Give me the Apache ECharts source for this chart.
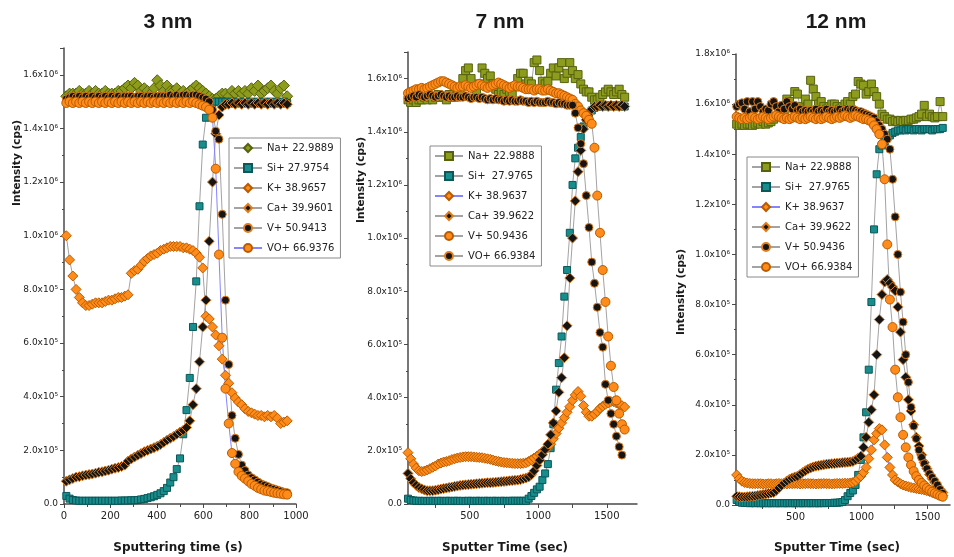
<!DOCTYPE html>
<html><head><meta charset="utf-8">
<script src="https://cdn.jsdelivr.net/npm/echarts@6/dist/echarts.min.js"></script>
<style>html,body{margin:0;padding:0;background:#fff}#c{width:954px;height:557px}</style>
</head><body><div id="c"></div>
<script>
// ---------- tick labels (y values in units of 1e5 cps) ----------
const yTickLabels = ['0.0','2.0x10⁵','4.0x10⁵','6.0x10⁵','8.0x10⁵','1.0x10⁶','1.2x10⁶','1.4x10⁶','1.6x10⁶','1.8x10⁶'];
const p23XLabels = [500,1000,1500];
const p23XTicks = [250,500,750,1000,1250,1500];

// ---------- panel 1 : 3 nm ----------
const p1Names = ['Na+ 22.9889','Si+ 27.9754','K+ 38.9657','Ca+ 39.9601','V+ 50.9413','VO+ 66.9376'];
const p1Time = [10,24,38,52,66,80,94,108,122,136,
 150,164,178,192,206,220,234,248,262,276,
 290,304,318,332,346,360,374,388,402,416,
 430,444,458,472,486,500,514,528,542,556,
 570,584,598,612,626,640,654,668,682,696,
 710,724,738,752,766,780,794,808,822,836,
 850,864,878,892,906,920,934,948,962];
const p1Na = [15.2,15.3,15.3,15.3,15.4,15.3,15.3,15.4,15.3,15.4,
 15.3,15.3,15.4,15.3,15.3,15.3,15.4,15.4,15.5,15.6,
 15.5,15.7,15.6,15.4,15.5,15.4,15.3,15.5,15.8,15.6,
 15.4,15.6,15.4,15.4,15.5,15.3,15.4,15.3,15.4,15.5,
 15.6,15.5,15.4,15.3,15.2,15.1,15.1,15.2,15.3,15.3,
 15.2,15.4,15.3,15.4,15.3,15.4,15.3,15.5,15.4,15.6,
 15.3,15.4,15.5,15.6,15.4,15.3,15.5,15.6,15.2];
const p1Si = [0.3,0.2,0.15,0.13,0.12,0.12,0.12,0.12,0.12,0.12,
 0.12,0.12,0.12,0.12,0.12,0.12,0.12,0.13,0.13,0.13,
 0.14,0.14,0.15,0.17,0.19,0.22,0.25,0.29,0.34,0.4,
 0.48,0.6,0.8,1.0,1.3,1.7,2.6,3.5,4.7,6.6,
 8.3,11.1,13.4,14.4,14.8,14.95,15.0,15.0,15.0,15.0,
 14.95,15.0,14.95,15.0,14.95,15.0,14.95,15.0,14.95,15.0,
 14.95,15.0,14.95,15.0,14.95,15.0,14.95,15.0,14.95];
const p1K = [10.0,9.1,8.5,8.0,7.7,7.5,7.4,7.4,7.45,7.5,
 7.5,7.5,7.55,7.6,7.6,7.65,7.7,7.7,7.75,7.8,
 8.6,8.7,8.75,8.9,9.05,9.15,9.25,9.3,9.35,9.45,
 9.5,9.55,9.6,9.6,9.6,9.6,9.55,9.55,9.5,9.45,
 9.35,9.2,8.8,7.0,6.9,6.6,6.3,5.9,5.4,4.8,
 4.5,4.15,3.95,3.8,3.7,3.55,3.45,3.4,3.35,3.3,
 3.3,3.25,3.3,3.25,3.3,3.2,3.0,3.05,3.1];
const p1Ca = [0.85,0.9,0.95,1.0,1.02,1.05,1.08,1.1,1.12,1.15,
 1.18,1.2,1.23,1.26,1.3,1.33,1.36,1.4,1.45,1.6,
 1.68,1.75,1.82,1.88,1.95,2.0,2.05,2.1,2.15,2.22,
 2.3,2.38,2.45,2.52,2.6,2.68,2.75,2.85,3.1,3.7,
 4.3,5.3,6.6,7.6,9.8,12.0,13.8,14.5,14.8,14.9,
 14.9,14.95,14.9,14.95,14.9,14.95,14.9,14.95,14.9,14.95,
 14.9,14.95,14.9,14.95,14.9,14.95,14.9,14.95,14.9];
const p1V = [15.1,15.15,15.2,15.15,15.2,15.15,15.2,15.15,15.2,15.15,
 15.2,15.15,15.2,15.15,15.2,15.15,15.2,15.15,15.2,15.2,
 15.2,15.15,15.2,15.2,15.15,15.2,15.2,15.15,15.2,15.2,
 15.2,15.2,15.25,15.2,15.25,15.2,15.25,15.25,15.2,15.25,
 15.25,15.2,15.15,15.1,15.0,14.7,13.9,13.6,10.8,7.6,
 5.2,3.3,2.45,1.85,1.45,1.25,1.08,0.98,0.9,0.82,
 0.75,0.7,0.65,0.6,0.56,0.52,0.48,0.44,0.42];
const p1VO = [14.95,15.0,14.95,15.0,14.95,15.0,14.95,15.0,14.95,15.0,
 14.95,15.0,14.95,15.0,14.95,15.0,14.95,15.0,14.95,15.0,
 14.95,15.0,14.95,15.0,14.95,15.0,14.95,15.0,14.95,15.0,
 14.95,15.0,14.95,15.0,14.95,15.0,14.95,15.0,14.95,15.0,
 14.95,14.9,14.85,14.8,14.7,14.4,12.5,9.3,6.2,4.3,
 3.0,1.9,1.5,1.2,1.05,0.95,0.85,0.75,0.68,0.6,
 0.55,0.5,0.48,0.45,0.42,0.4,0.38,0.36,0.35];

// ---------- panel 2 : 7 nm ----------
const p2Names = ['Na+ 22.9888','Si+  27.9765','K+ 38.9637','Ca+ 39.9622','V+ 50.9436','VO+ 66.9384'];
const p2Time = [50,70,90,110,130,150,170,190,210,230,
 250,270,290,310,330,350,370,390,410,430,
 450,470,490,510,530,550,570,590,610,630,
 650,670,690,710,730,750,770,790,810,830,
 850,870,890,910,930,950,970,990,1010,1030,
 1050,1070,1090,1110,1130,1150,1170,1190,1210,1230,
 1250,1270,1290,1310,1330,1350,1370,1390,1410,1430,
 1450,1470,1490,1510,1530,1550,1570,1590,1610,1630];
const p2Na = [15.2,15.1,15.2,15.1,15.2,15.2,15.3,15.2,15.3,15.2,
 15.3,15.4,15.3,15.3,15.2,15.4,15.3,15.3,15.4,15.5,
 16.0,16.3,16.4,16.0,15.7,15.5,15.8,16.4,16.2,16.0,
 16.1,15.8,15.6,15.4,15.5,15.4,15.6,15.5,15.4,15.7,
 16.0,16.2,16.2,15.8,15.9,15.8,16.6,16.7,16.3,15.9,
 15.8,15.9,16.2,16.4,16.1,16.4,16.6,16.0,16.2,16.6,
 16.3,16.0,16.15,15.8,15.6,15.5,15.5,15.3,15.2,15.2,
 15.3,15.4,15.5,15.6,15.5,15.4,15.5,15.6,15.4,15.3];
const p2Si = [0.2,0.15,0.13,0.12,0.12,0.11,0.12,0.11,0.12,0.12,
 0.11,0.12,0.12,0.11,0.12,0.12,0.11,0.12,0.12,0.11,
 0.12,0.11,0.12,0.12,0.11,0.12,0.12,0.11,0.12,0.12,
 0.11,0.12,0.12,0.11,0.12,0.12,0.11,0.12,0.12,0.12,
 0.12,0.12,0.12,0.12,0.2,0.3,0.42,0.55,0.65,0.9,
 1.15,1.5,2.1,3.0,4.3,5.3,6.3,7.8,8.8,10.2,
 12.0,13.0,13.4,13.8,14.2,14.5,14.7,14.8,14.9,14.95,
 14.95,15.0,14.95,15.0,14.95,15.0,14.95,15.0,14.95,14.95];
const p2K = [1.93,1.7,1.5,1.35,1.25,1.22,1.24,1.28,1.33,1.38,
 1.43,1.5,1.54,1.58,1.6,1.63,1.67,1.7,1.73,1.75,
 1.77,1.78,1.78,1.78,1.77,1.76,1.75,1.74,1.72,1.7,
 1.68,1.65,1.62,1.6,1.58,1.56,1.55,1.54,1.53,1.52,
 1.52,1.52,1.53,1.55,1.6,1.66,1.73,1.8,1.88,1.96,
 2.05,2.12,2.25,2.45,2.65,2.85,3.05,3.25,3.45,3.66,
 3.9,4.1,4.23,4.05,3.7,3.45,3.3,3.3,3.38,3.48,
 3.6,3.68,3.75,3.8,3.85,3.85,3.8,3.75,3.7,3.65];
const p2Ca = [1.15,0.95,0.8,0.7,0.62,0.57,0.53,0.5,0.5,0.5,
 0.52,0.54,0.56,0.58,0.6,0.62,0.64,0.66,0.68,0.7,
 0.71,0.72,0.73,0.74,0.75,0.76,0.77,0.78,0.79,0.8,
 0.8,0.81,0.82,0.83,0.84,0.85,0.86,0.87,0.88,0.89,
 0.9,0.92,0.95,0.98,1.02,1.1,1.25,1.45,1.65,1.85,
 2.05,2.25,2.6,3.05,3.5,4.2,4.75,5.5,6.7,8.5,
 10.0,11.4,12.5,13.3,14.1,14.45,14.7,14.85,14.95,14.95,
 15.0,14.95,15.0,14.95,15.0,14.95,15.0,14.95,15.0,14.95];
const p2V = [15.45,15.5,15.55,15.6,15.6,15.65,15.6,15.65,15.7,15.75,
 15.8,15.85,15.9,15.9,15.85,15.8,15.75,15.7,15.65,15.7,
 15.7,15.75,15.7,15.65,15.7,15.75,15.8,15.75,15.7,15.65,
 15.7,15.75,15.8,15.85,15.8,15.75,15.7,15.65,15.7,15.75,
 15.7,15.7,15.65,15.6,15.6,15.6,15.55,15.6,15.6,15.55,
 15.55,15.6,15.55,15.5,15.45,15.45,15.4,15.35,15.3,15.25,
 15.2,15.05,14.95,14.8,14.7,14.6,14.45,14.3,13.4,11.6,
 10.2,8.8,7.6,6.3,5.2,4.4,3.9,3.4,3.0,2.8];
const p2VO = [15.25,15.3,15.35,15.3,15.4,15.35,15.3,15.35,15.4,15.35,
 15.3,15.35,15.4,15.35,15.3,15.35,15.3,15.3,15.35,15.3,
 15.3,15.35,15.3,15.25,15.3,15.3,15.25,15.3,15.25,15.2,
 15.25,15.2,15.25,15.2,15.2,15.15,15.2,15.15,15.2,15.15,
 15.15,15.2,15.15,15.15,15.1,15.15,15.1,15.15,15.1,15.1,
 15.1,15.15,15.1,15.1,15.05,15.1,15.05,15.05,15.0,15.0,
 15.0,14.7,14.15,13.55,12.8,11.6,10.4,9.1,8.3,7.4,
 6.45,5.9,4.5,3.9,3.4,3.0,2.55,2.15,1.84,null];

// ---------- panel 3 : 12 nm ----------
const p3Names = ['Na+ 22.9888\u200b','Si+  27.9765\u200b','K+ 38.9637\u200b','Ca+ 39.9622\u200b','V+ 50.9436\u200b','VO+ 66.9384\u200b'];
const p3Time = [55,75,95,115,135,155,175,195,215,235,
 255,275,295,315,335,355,375,395,415,435,
 455,475,495,515,535,555,575,595,615,635,
 655,675,695,715,735,755,775,795,815,835,
 855,875,895,915,935,955,975,995,1015,1035,
 1055,1075,1095,1115,1135,1155,1175,1195,1215,1235,
 1255,1275,1295,1315,1335,1355,1375,1395,1415,1435,
 1455,1475,1495,1515,1535,1555,1575,1595,1615];
const p3Na = [15.2,15.15,15.2,15.15,15.2,15.2,15.15,15.2,15.25,15.2,
 15.3,15.2,15.25,15.3,15.4,15.5,15.6,15.8,15.7,16.2,
 16.1,15.9,16.5,16.4,15.9,15.8,16.2,16.0,16.95,16.6,
 16.3,16.0,16.1,15.9,15.8,15.9,16.0,16.0,15.9,15.8,
 15.9,16.0,16.1,16.0,16.3,16.4,16.9,16.8,16.75,16.4,
 16.5,16.8,16.5,16.3,16.0,15.6,15.5,15.4,15.4,15.3,
 15.35,15.3,15.35,15.3,15.35,15.35,15.4,15.4,15.45,15.5,
 15.6,15.95,15.5,15.6,15.5,15.45,15.5,16.1,15.5];
const p3Si = [0.2,0.12,0.09,0.08,0.08,0.07,0.08,0.07,0.08,0.07,
 0.07,0.08,0.07,0.07,0.08,0.07,0.07,0.08,0.07,0.07,
 0.08,0.07,0.07,0.08,0.07,0.07,0.08,0.07,0.07,0.08,
 0.07,0.07,0.08,0.07,0.08,0.08,0.08,0.09,0.09,0.1,
 0.12,0.2,0.35,0.48,0.58,0.8,1.2,1.8,2.7,3.7,
 5.4,8.1,11.0,13.2,14.2,14.35,14.5,14.65,14.75,14.85,
 14.9,14.95,14.95,15.0,14.95,15.0,15.0,14.95,15.0,15.0,
 14.95,15.0,15.0,15.0,14.95,15.0,15.0,15.0,15.05];
const p3K = [1.2,1.05,0.95,0.9,0.88,0.86,0.85,0.85,0.85,0.85,
 0.84,0.84,0.85,0.85,0.84,0.85,0.86,0.85,0.85,0.84,
 0.85,0.85,0.86,0.85,0.84,0.85,0.85,0.86,0.85,0.85,
 0.84,0.85,0.85,0.86,0.85,0.85,0.84,0.85,0.86,0.86,
 0.86,0.87,0.87,0.88,0.9,0.95,1.05,1.15,1.3,1.5,
 1.85,2.2,2.6,2.85,3.05,3.0,2.4,1.9,1.5,1.2,
 1.0,0.92,0.85,0.8,0.76,0.73,0.7,0.68,0.66,0.64,
 0.62,0.6,0.57,0.54,0.5,0.47,0.44,0.4,0.38];
const p3Ca = [0.35,0.33,0.32,0.32,0.33,0.34,0.35,0.36,0.38,0.4,
 0.42,0.44,0.46,0.48,0.5,0.58,0.68,0.78,0.88,0.96,
 1.03,1.08,1.12,1.15,1.22,1.3,1.37,1.43,1.48,1.52,
 1.55,1.57,1.59,1.61,1.63,1.64,1.65,1.66,1.67,1.68,
 1.69,1.7,1.71,1.72,1.74,1.8,1.88,1.95,2.3,2.7,
 3.3,3.8,4.4,6.0,7.4,8.4,8.9,9.0,8.85,8.7,
 8.55,7.9,6.9,5.8,5.1,4.2,3.75,3.2,2.7,2.35,
 2.0,1.7,1.45,1.22,1.05,0.9,0.75,0.62,0.5];
const p3V = [15.9,16.0,16.05,15.8,16.1,15.7,16.1,15.8,16.1,15.9,
 15.7,15.8,15.75,16.0,16.1,15.9,15.7,15.95,15.8,16.1,
 15.9,15.8,15.95,15.75,15.8,15.7,15.75,15.7,15.75,15.7,
 15.8,15.7,15.75,15.7,15.8,15.7,15.75,15.7,15.75,15.8,
 15.7,15.75,15.8,15.75,15.8,15.75,15.7,15.7,15.65,15.6,
 15.55,15.5,15.45,15.3,15.15,15.0,14.8,14.6,14.2,13.0,
 11.5,10.0,8.5,7.3,6.0,4.9,3.9,3.15,2.65,2.2,
 1.9,1.65,1.45,1.25,1.1,0.95,0.8,0.62,0.47];
const p3VO = [15.5,15.45,15.4,15.45,15.4,15.45,15.5,15.45,15.4,15.45,
 15.5,15.45,15.4,15.45,15.5,15.55,15.5,15.45,15.4,15.45,
 15.4,15.45,15.5,15.45,15.4,15.45,15.4,15.45,15.5,15.45,
 15.4,15.45,15.4,15.45,15.5,15.45,15.4,15.45,15.5,15.45,
 15.5,15.55,15.5,15.45,15.5,15.55,15.5,15.45,15.4,15.4,
 15.35,15.3,15.15,15.0,14.8,14.4,13.0,10.4,8.2,7.1,
 5.4,4.3,3.5,2.8,2.3,1.9,1.6,1.35,1.15,1.0,
 0.88,0.78,0.68,0.6,0.53,0.47,0.42,0.37,0.33];

// ---------- styling ----------
const COL = {
  olive:['#8e9c1e','#566210'], teal:['#178d8d','#0b5858'],
  orange:['#ff8c1a','#b95c00'], black:['#141414','#e07d1c'],
  gray:'#a3a3a3', blue:'#8484ff'
};
const FONT = 'DejaVu Sans';
function pairs(t, v){ const out=[]; for(let i=0;i<t.length;i++){ if(v[i]!=null) out.push([t[i], v[i]]); } return out; }
function mk(name, t, v, sym, size, c, lineColor, gi){
  return {type:'line', name, data:pairs(t,v), xAxisIndex:gi, yAxisIndex:gi,
    symbol:sym, symbolSize:size, showSymbol:true, showAllSymbol:true,
    itemStyle:{color:c[0], borderColor:c[1], borderWidth:1},
    lineStyle:{color:lineColor, width:1},
    emphasis:{disabled:true}, silent:true, animation:false};
}
const series = [
  mk(p1Names[0], p1Time, p1Na, 'diamond', 11, COL.olive, COL.gray, 0),
  mk(p1Names[1], p1Time, p1Si, 'rect', 7, COL.teal, COL.gray, 0),
  mk(p1Names[2], p1Time, p1K, 'diamond', 10, COL.orange, COL.gray, 0),
  mk(p1Names[3], p1Time, p1Ca, 'diamond', 10, COL.black, COL.gray, 0),
  mk(p1Names[4], p1Time, p1V, 'circle', 8, COL.black, COL.gray, 0),
  mk(p1Names[5], p1Time, p1VO, 'circle', 9, COL.orange, COL.blue, 0),

  mk(p2Names[0], p2Time, p2Na, 'rect', 8, COL.olive, COL.gray, 1),
  mk(p2Names[1], p2Time, p2Si, 'rect', 7, COL.teal, COL.gray, 1),
  mk(p2Names[2], p2Time, p2K, 'diamond', 10, COL.orange, COL.blue, 1),
  mk(p2Names[3], p2Time, p2Ca, 'diamond', 10, COL.black, COL.gray, 1),
  mk(p2Names[4], p2Time, p2V, 'circle', 9, COL.orange, COL.gray, 1),
  mk(p2Names[5], p2Time, p2VO, 'circle', 8, COL.black, COL.gray, 1),

  mk(p3Names[0], p3Time, p3Na, 'rect', 8, COL.olive, COL.gray, 2),
  mk(p3Names[1], p3Time, p3Si, 'rect', 7, COL.teal, COL.gray, 2),
  mk(p3Names[2], p3Time, p3K, 'diamond', 10, COL.orange, COL.blue, 2),
  mk(p3Names[3], p3Time, p3Ca, 'diamond', 10, COL.black, COL.gray, 2),
  mk(p3Names[4], p3Time, p3V, 'circle', 8, COL.black, COL.gray, 2),
  mk(p3Names[5], p3Time, p3VO, 'circle', 9, COL.orange, COL.gray, 2)
];

const AX = '#4a4a4a';
function yAxis(gi, max){
  return {type:'value', gridIndex:gi, min:0, max:max, interval:2,
    axisLine:{show:true, lineStyle:{color:AX, width:1.5}},
    axisTick:{show:true, length:4, lineStyle:{color:AX}},
    minorTick:{show:true, splitNumber:2, length:2, lineStyle:{color:AX}},
    splitLine:{show:false}, minorSplitLine:{show:false},
    axisLabel:{fontSize:9, color:'#222', fontFamily:FONT, margin:6,
      formatter: v => (Number.isInteger(v/2) && yTickLabels[v/2]!==undefined) ? yTickLabels[v/2] : ''}};
}
function xAxisCustom(gi, min, max){
  return {type:'value', gridIndex:gi, min:min, max:max,
    axisLine:{show:true, lineStyle:{color:AX, width:1.5}},
    axisTick:{show:true, length:4, lineStyle:{color:AX}, customValues:p23XTicks},
    splitLine:{show:false},
    axisLabel:{fontSize:10, color:'#222', fontFamily:FONT, margin:7, customValues:p23XLabels,
      formatter: v => String(v)}};
}
function legend(names, left, top){
  return {orient:'vertical', left:left, top:top, data:names, selectedMode:false,
    itemWidth:28, itemHeight:10, itemGap:10, padding:[5,6,5,4],
    borderColor:'#8a8a8a', borderWidth:1, backgroundColor:'#fff',
    textStyle:{fontSize:10, fontFamily:FONT, color:'#222'}};
}
function txt(text, x, y, font, rot){
  const o = {type:'text', x:x, y:y, silent:true,
    style:{text:text, font:font, fill:'#1a1a1a', textAlign:'center', textVerticalAlign:'middle', align:'center', verticalAlign:'middle'}};
  if (rot) o.rotation = rot;
  return o;
}

const option = {
  animation:false,
  backgroundColor:'#fff',
  grid:[
    {left:64, top:48, width:232, height:456},
    {left:408, top:52, width:229, height:452},
    {left:736, top:54, width:214, height:451}
  ],
  xAxis:[
    {type:'value', gridIndex:0, min:0, max:1000, interval:200,
      axisLine:{show:true, lineStyle:{color:AX, width:1.5}},
      axisTick:{show:true, length:4, lineStyle:{color:AX}},
      minorTick:{show:true, splitNumber:2, length:3, lineStyle:{color:AX}},
      splitLine:{show:false}, minorSplitLine:{show:false},
      axisLabel:{fontSize:10, color:'#222', fontFamily:FONT, margin:7, formatter: v => String(v)}},
    xAxisCustom(1, 50, 1720),
    xAxisCustom(2, 50, 1670)
  ],
  yAxis:[yAxis(0,17), yAxis(1,17), yAxis(2,18)],
  legend:[legend(p1Names,229,138), legend(p2Names,430,146), legend(p3Names,747,157)],
  graphic:[
    txt('3 nm', 168, 22, 'bold 21px "Liberation Sans"'),
    txt('7 nm', 500, 22, 'bold 21px "Liberation Sans"'),
    txt('12 nm', 836, 22, 'bold 21px "Liberation Sans"'),
    txt('Intensity (cps)', 17, 163, 'bold 10.5px "DejaVu Sans"', Math.PI/2),
    txt('Intensity (cps)', 361, 180, 'bold 10.5px "DejaVu Sans"', Math.PI/2),
    txt('Intensity (cps)', 681, 292, 'bold 10.5px "DejaVu Sans"', Math.PI/2),
    txt('Sputtering time (s)', 178, 548, 'bold 12px "DejaVu Sans"'),
    txt('Sputter Time (sec)', 505, 548, 'bold 12px "DejaVu Sans"'),
    txt('Sputter Time (sec)', 837, 548, 'bold 12px "DejaVu Sans"')
  ],
  series: series
};
const chart = echarts.init(document.getElementById('c'), null, {renderer:'canvas'});
chart.setOption(option);
</script>
</body></html>
